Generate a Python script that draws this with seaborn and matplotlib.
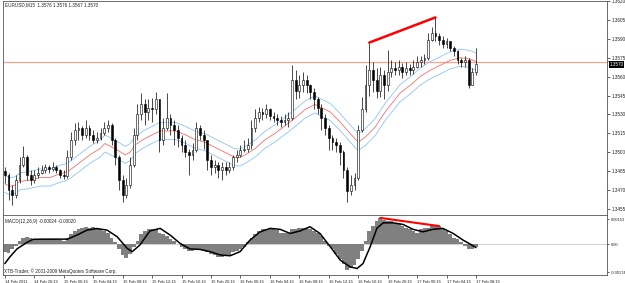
import numpy as np
import matplotlib
matplotlib.use("Agg")
import matplotlib.pyplot as plt
import matplotlib.transforms as mtrans
from matplotlib.patches import Rectangle
import seaborn as sns

# EURUSD in 30 min steps (open = previous close)
first_open = 1.3485
close = [1.3482, 1.3470, 1.3466, 1.3478, 1.3490, 1.3496, 1.3482, 1.3478, 1.3482, 1.3484,
         1.3486, 1.3488, 1.3487, 1.3488, 1.3486, 1.3482, 1.3481, 1.3496, 1.3510, 1.3518,
         1.3519, 1.3514, 1.3519, 1.3514, 1.3510, 1.3511, 1.3515, 1.3519, 1.3522, 1.3510,
         1.3496, 1.3478, 1.3466, 1.3474, 1.3490, 1.3514, 1.3530, 1.3538, 1.3532, 1.3535,
         1.3534, 1.3542, 1.3510, 1.3519, 1.3527, 1.3522, 1.3518, 1.3511, 1.3506, 1.3500,
         1.3498, 1.3502, 1.3519, 1.3514, 1.3510, 1.3494, 1.3488, 1.3490, 1.3486, 1.3488,
         1.3486, 1.3488, 1.3496, 1.3498, 1.3502, 1.3503, 1.3506, 1.3519, 1.3527, 1.3532,
         1.3530, 1.3534, 1.3529, 1.3527, 1.3526, 1.3524, 1.3526, 1.3527, 1.3557, 1.3549,
         1.3553, 1.3557, 1.3553, 1.3548, 1.3542, 1.3535, 1.3527, 1.3519, 1.3511, 1.3508,
         1.3506, 1.3500, 1.3486, 1.3469, 1.3474, 1.3480, 1.3518, 1.3534, 1.3553, 1.3565,
         1.3557, 1.3549, 1.3561, 1.3553, 1.3564, 1.3567, 1.3565, 1.3568, 1.3564, 1.3567,
         1.3565, 1.3568, 1.3572, 1.3573, 1.3575, 1.3589, 1.3595, 1.3592, 1.3589, 1.3586,
         1.3588, 1.3583, 1.3580, 1.3573, 1.3572, 1.3573, 1.3553, 1.3564, 1.3570]
high = [1.3488, 1.3484, 1.3474, 1.3482, 1.3496, 1.3505, 1.3498, 1.3486, 1.3486, 1.3488,
        1.3490, 1.3491, 1.3490, 1.3492, 1.3490, 1.3487, 1.3486, 1.3502, 1.3516, 1.3523,
        1.3524, 1.3521, 1.3526, 1.3522, 1.3518, 1.3516, 1.3519, 1.3524, 1.3526, 1.3523,
        1.3511, 1.3498, 1.3482, 1.3480, 1.3496, 1.3519, 1.3538, 1.3547, 1.3542, 1.3542,
        1.3543, 1.3548, 1.3542, 1.3527, 1.3547, 1.3530, 1.3526, 1.3522, 1.3514, 1.3510,
        1.3503, 1.3507, 1.3524, 1.3522, 1.3518, 1.3510, 1.3498, 1.3494, 1.3492, 1.3492,
        1.3492, 1.3492, 1.3498, 1.3502, 1.3506, 1.3510, 1.3511, 1.3526, 1.3534, 1.3536,
        1.3535, 1.3538, 1.3535, 1.3532, 1.3530, 1.3529, 1.3530, 1.3532, 1.3569, 1.3565,
        1.3561, 1.3564, 1.3561, 1.3554, 1.3551, 1.3544, 1.3538, 1.3530, 1.3522, 1.3514,
        1.3511, 1.3508, 1.3502, 1.3488, 1.3482, 1.3484, 1.3522, 1.3544, 1.3569, 1.3587,
        1.3572, 1.3567, 1.3568, 1.3565, 1.3581, 1.3573, 1.3572, 1.3573, 1.3571, 1.3572,
        1.3570, 1.3573, 1.3576, 1.3576, 1.3578, 1.3595, 1.3599, 1.3607, 1.3595, 1.3592,
        1.3591, 1.3588, 1.3584, 1.3581, 1.3575, 1.3576, 1.3575, 1.3567, 1.3583]
low = [1.3476, 1.3462, 1.3458, 1.3464, 1.3476, 1.3488, 1.3478, 1.3474, 1.3476, 1.3480,
       1.3483, 1.3484, 1.3484, 1.3485, 1.3484, 1.3480, 1.3479, 1.3480, 1.3494, 1.3506,
       1.3510, 1.3510, 1.3511, 1.3510, 1.3507, 1.3507, 1.3510, 1.3514, 1.3516, 1.3506,
       1.3490, 1.3470, 1.3461, 1.3464, 1.3472, 1.3488, 1.3510, 1.3526, 1.3522, 1.3526,
       1.3524, 1.3530, 1.3500, 1.3506, 1.3518, 1.3514, 1.3506, 1.3504, 1.3500, 1.3496,
       1.3482, 1.3494, 1.3500, 1.3510, 1.3503, 1.3486, 1.3482, 1.3484, 1.3480, 1.3478,
       1.3482, 1.3484, 1.3486, 1.3492, 1.3496, 1.3500, 1.3500, 1.3503, 1.3516, 1.3524,
       1.3526, 1.3527, 1.3526, 1.3524, 1.3522, 1.3520, 1.3522, 1.3520, 1.3526, 1.3542,
       1.3543, 1.3548, 1.3547, 1.3542, 1.3534, 1.3530, 1.3518, 1.3514, 1.3502, 1.3502,
       1.3500, 1.3490, 1.3480, 1.3461, 1.3466, 1.3470, 1.3478, 1.3516, 1.3532, 1.3545,
       1.3548, 1.3543, 1.3544, 1.3542, 1.3549, 1.3560, 1.3561, 1.3561, 1.3559, 1.3561,
       1.3561, 1.3562, 1.3567, 1.3568, 1.3570, 1.3573, 1.3588, 1.3588, 1.3585, 1.3583,
       1.3583, 1.3580, 1.3576, 1.3570, 1.3568, 1.3568, 1.3551, 1.3553, 1.3561]

# moving average (red) read at these bar positions, envelope +-0.05 %
ma_idx = [0, 1.4, 2.8, 4.1, 6.8, 9.6, 12.3, 15, 16.3, 17.7, 20.4, 23.1, 25.9, 27.2, 29.9,
          32.7, 34, 35.4, 38.1, 40.8, 42.2, 44.9, 46.2, 49, 51.7, 54.4, 57.1, 59.8, 62.5, 63.9,
          65.3, 68, 70.7, 73.4, 76.1, 78.8, 81.6, 84.3, 85.6, 88.4, 91.1, 93.8, 96, 97.9, 100.6,
          103.3, 107.4, 110.1, 112.8, 115.5, 118.3, 121, 123.7, 126.4, 128]
ma_val = [1.3475, 1.3473, 1.3474, 1.3477, 1.3478, 1.3480, 1.3480, 1.3483, 1.3484, 1.3486,
          1.3492, 1.3498, 1.3503, 1.3507, 1.3503, 1.3498, 1.3500, 1.3506, 1.3511, 1.3515,
          1.3517, 1.3517, 1.3517, 1.3514, 1.3510, 1.3508, 1.3504, 1.3500, 1.3496, 1.3496,
          1.3498, 1.3503, 1.3510, 1.3515, 1.3521, 1.3527, 1.3534, 1.3538, 1.3536, 1.3532,
          1.3524, 1.3515, 1.3508, 1.3512, 1.3520, 1.3532, 1.3547, 1.3553, 1.3560, 1.3565,
          1.3569, 1.3573, 1.3575, 1.3574, 1.3572]
env_dev = 0.0005

# MACD histogram, one value per bar, and the black line
macd_hist = [-0.0005, -0.00052, -0.0003, -0.0001, 0.0002, 0.0004, 0.00043, 0.00035, 0.0003, 0.0003,
             0.00032, 0.0003, 0.0003, 0.00032, 0.0003, 0.00025, 0.0002, 0.0004, 0.0006, 0.0008,
             0.00095, 0.001, 0.00102, 0.001, 0.00105, 0.001, 0.0009, 0.0008, 0.0007, 0.0004,
             0.0001, -0.0003, -0.0007, -0.00085, -0.0006, -0.0002, 0.0002, 0.0006, 0.0008, 0.0009,
             0.0009, 0.0009, 0.0007, 0.0006, 0.0005, 0.0003, 0.0002, 0.0, -0.0002, -0.0003,
             -0.0004, -0.0004, -0.0003, -0.0003, -0.0004, -0.0005, -0.0006, -0.0007, -0.0008, -0.0008,
             -0.00075, -0.0007, -0.0005, -0.0004, -0.0003, -0.0002, 0.0001, 0.0004, 0.0006, 0.0008,
             0.0009, 0.00092, 0.0009, 0.0009, 0.00085, 0.0007, 0.00065, 0.0007, 0.0009, 0.0009,
             0.001, 0.001, 0.001, 0.00095, 0.0008, 0.0007, 0.0005, 0.0002, -0.0001, -0.0003,
             -0.0006, -0.0009, -0.0012, -0.0016, -0.0015, -0.0013, -0.0009, -0.0004, 0.0002, 0.0008,
             0.0011, 0.0014, 0.0016, 0.0015, 0.0014, 0.0014, 0.0013, 0.0012, 0.0011, 0.001,
             0.0009, 0.0008, 0.0007, 0.0009, 0.001, 0.001, 0.0011, 0.0011, 0.0011, 0.0009,
             0.0008, 0.0006, 0.0004, 0.0003, 0.0001, -0.0001, -0.0003, -0.0003, -0.0002]
sig_idx = [0, 1.4, 3.3, 6, 7.7, 11, 17, 19.6, 22.3, 25, 27.8, 30.5, 33.2, 34.6, 36.7, 39.4,
           42.2, 44.9, 47.6, 50.3, 53, 55.8, 58.5, 61.2, 63.9, 66.6, 69.3, 72.1, 74.8, 77.5,
           80.2, 82.9, 85.6, 88.4, 91.1, 93.8, 95.7, 97.3, 99.2, 101.1, 102.8, 105.5, 108.2,
           110.9, 113.6, 116.3, 119, 121.8, 124.5, 126.4, 128]
sig_val = [-0.0012, -0.00078, -0.0003, 0.0001, 0.00029, 0.0003, 0.0003, 0.00055, 0.00085, 0.00095,
           0.00085, 0.00045, -0.00026, -0.00047, -0.00006, 0.0008, 0.00096, 0.00055, 0.00004, -0.0003,
           -0.00033, -0.00047, -0.00067, -0.00072, -0.00047, 0.00024, 0.00074, 0.00096, 0.0009, 0.00065,
           0.0008, 0.00106, 0.00065, -0.00016, -0.00098, -0.0014, -0.0015, -0.0012, -0.0002, 0.00097,
           0.0013, 0.0013, 0.0012, 0.0009, 0.00075, 0.0009, 0.00096, 0.00065, 0.00024, 0.0, -0.00022]

time_labels = ["14 Feb 2011", "14 Feb 20:15", "15 Feb 00:15", "15 Feb 04:15", "15 Feb 08:15",
               "15 Feb 12:15", "15 Feb 16:15", "15 Feb 20:15", "16 Feb 00:15", "16 Feb 04:15",
               "16 Feb 08:15", "16 Feb 12:15", "16 Feb 16:15", "16 Feb 20:15", "17 Feb 00:15",
               "17 Feb 04:15", "17 Feb 08:15"]
label_step = 8
price_ticks = [1.3620, 1.3605, 1.3590, 1.3575, 1.3560, 1.3545, 1.3530, 1.3515,
               1.3500, 1.3485, 1.3470, 1.3455]
macd_ticks = [0.00153, 0.0, -0.00174]
macd_tick_labels = ["0.00153", "0.00", "-0.00174"]
hline_price = 1.3572
bid = 1.3570
div_bars = (99, 117)      # price highs joined by the red line
macd_div_bars = (102, 118)

sns.set_theme(style="white")
plt.rcParams['font.family'] = ['Liberation Sans', 'DejaVu Sans']
FS = 3.3
axis_col = "#555555"

fig = plt.figure(figsize=(6.25, 2.83), dpi=100)
ax = fig.add_axes([3 / 625, 1 - 215 / 283, 604 / 625, 214 / 283])
ax2 = fig.add_axes([3 / 625, 1 - 275 / 283, 604 / 625, 60 / 283])

n = len(close)
idx = np.arange(n)
c = np.array(close)
o = np.array([first_open] + close[:-1])
up = c >= o

# price panel
ax.axhline(hline_price, color="#f7a488", lw=0.9, zorder=1)
ma = np.array(ma_val)
sns.lineplot(x=ma_idx, y=ma * (1 + env_dev), ax=ax, color="#8ec3f5", lw=0.6, legend=False)
sns.lineplot(x=ma_idx, y=ma * (1 - env_dev), ax=ax, color="#8ec3f5", lw=0.6, legend=False)
sns.lineplot(x=ma_idx, y=ma, ax=ax, color="#f07070", lw=0.6, legend=False)
ax.vlines(idx, low, high, color="black", lw=0.5, zorder=3)
ax.bar(idx[up], np.maximum((c - o)[up], 0.00003), bottom=o[up], width=0.5,
       color="white", edgecolor="black", lw=0.4, zorder=4)
ax.bar(idx[~up], (o - c)[~up], bottom=c[~up], width=0.5,
       color="black", edgecolor="black", lw=0.4, zorder=4)
ax.plot(div_bars, [high[div_bars[0]], high[div_bars[1]]], color="#ff0000", lw=1.8, zorder=5)

ax.set_xlim(-0.5, 163.6)
ax.set_ylim(1.34503, 1.36200)
ax.set_xticks([])
ax.yaxis.tick_right()
ax.set_yticks(price_ticks)
ax.set_yticklabels([f"{p:.4f}" for p in price_ticks])

# orange price tag of the horizontal line, mostly hidden under the bid tag
blend = mtrans.blended_transform_factory(ax.transAxes, ax.transData)
ax.add_patch(Rectangle((1.002, hline_price - 0.00002), 0.026, 0.00008, transform=blend,
                       facecolor="#ff4a1c", edgecolor="none", clip_on=False, zorder=6))
ax.text(1.004, bid - 0.00004, f"{bid:.4f}", transform=blend, fontsize=FS,
        color="white", va="center", ha="left",
        bbox=dict(facecolor="black", edgecolor="none", pad=0.5), zorder=7, clip_on=False)

# MACD panel
sns.barplot(x=idx, y=macd_hist, ax=ax2, native_scale=True, width=1.0,
            color="#808080", saturation=1, linewidth=0)
ax2.axhline(0, color="#c8c8c8", lw=0.6, zorder=0)
sns.lineplot(x=sig_idx, y=sig_val, ax=ax2, color="black", lw=1.1, legend=False)
ax2.plot(macd_div_bars, [macd_hist[macd_div_bars[0]], macd_hist[macd_div_bars[1]]],
         color="#ff0000", lw=1.5, zorder=5)
ax2.set_xlim(-0.5, 163.6)
ax2.set_ylim(-0.0019, 0.00178)
ax2.yaxis.tick_right()
ax2.set_yticks(macd_ticks)
ax2.set_yticklabels(macd_tick_labels)
ax2.set_xticks(idx[::label_step])
ax2.set_xticklabels(time_labels, ha="left")
shift = mtrans.ScaledTranslation(-3 / 100, 0, fig.dpi_scale_trans)
for lbl in ax2.get_xticklabels():
    lbl.set_transform(lbl.get_transform() + shift)
ax2.set_xlabel("")
ax2.set_ylabel("")

for a in (ax, ax2):
    for s in a.spines.values():
        s.set_color(axis_col)
        s.set_linewidth(0.6)
    a.tick_params(axis="y", right=True, left=False, length=2, width=0.5, pad=1.5,
                  labelsize=FS, colors="#222222")
    a.set_facecolor("white")
ax2.tick_params(axis="y", length=1.5, pad=1, labelsize=2.9)
ax2.tick_params(axis="x", bottom=True, length=2, width=0.5, pad=1.5,
                labelsize=3.0, colors="#222222")

fig.text(5 / 625, 1 - 5 / 283, "EURUSD,M15  1.3576 1.3576 1.3567 1.3570",
         fontsize=FS, va="center", ha="left", color="#222222")
fig.text(5 / 625, 1 - 222 / 283, "MACD(12,26,9) -0.00024 -0.00020",
         fontsize=FS, va="center", ha="left", color="#222222")
fig.text(4 / 625, 1 - 271 / 283, "XTB-Trader, \u00a9 2001-2009 MetaQuotes Software Corp.",
         fontsize=FS, va="center", ha="left", color="#222222")

fig.savefig("out.png", dpi=100, facecolor="white")
